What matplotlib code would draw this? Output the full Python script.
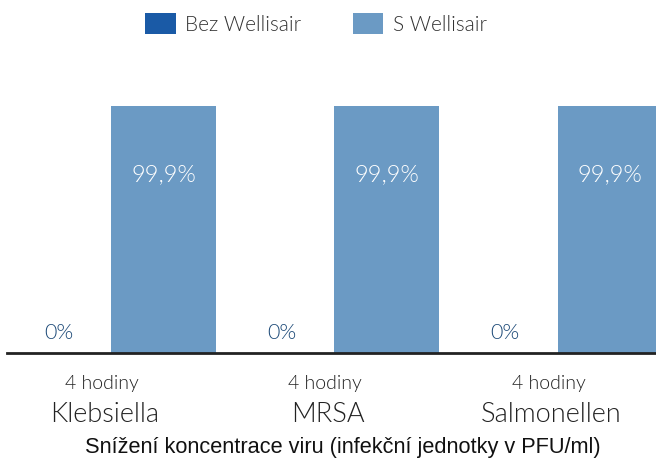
import matplotlib
matplotlib.use("Agg")
import matplotlib.pyplot as plt
from matplotlib.patches import Patch
import numpy as np

categories = ["Klebsiella", "MRSA", "Salmonellen"]
durations = ["4 hodiny", "4 hodiny", "4 hodiny"]
series_names = ["Bez Wellisair", "S Wellisair"]
bez_values = [0, 0, 0]
s_values = [99.9, 99.9, 99.9]
bez_labels = ["0%", "0%", "0%"]
s_labels = ["99,9%", "99,9%", "99,9%"]
xlabel = "Snížení koncentrace viru (infekční jednotky v PFU/ml)"

dark = "#1a5aa6"
light = "#6b9ac4"
FONT = "Lato"
WT = 300

W, H = 656, 461
fig = plt.figure(figsize=(W/100, H/100), dpi=100)
ax = fig.add_axes([7/W, 1-353/H, (W-7)/W, (353-106)/H])

x = np.arange(len(categories))
bw = 0.47
ax.bar(x - bw/2, bez_values, bw, color=dark)
ax.bar(x + bw/2, s_values, bw, color=light)
ax.set_ylim(0, 99.9)
ax.set_xlim(-0.465, 2.44)

for i in range(len(categories)):
    ax.text(x[i] - bw/2, 4, bez_labels[i], ha="center", va="bottom",
            color="#1d4a78", fontsize=15.5, family=FONT, fontweight=WT)
    ax.text(x[i] + bw/2, 72, s_labels[i], ha="center", va="center",
            color="white", fontsize=17, family=FONT, fontweight=WT)

for s in ["top", "right", "left"]:
    ax.spines[s].set_visible(False)
ax.spines["bottom"].set_linewidth(2)
ax.spines["bottom"].set_color("#222222")
ax.set_yticks([])
ax.set_xticks(x)
ax.set_xticklabels([])
ax.tick_params(axis="x", length=0)

trans = ax.get_xaxis_transform()
for i in range(len(categories)):
    ax.text(x[i] - 0.04, -0.125, durations[i], transform=trans, ha="center", va="center",
            fontsize=14, family=FONT, fontweight=WT, color="#222222")
    ax.text(x[i] - 0.03, -0.25, categories[i], transform=trans, ha="center", va="center",
            fontsize=19.5, family=FONT, fontweight=WT, color="#222222")

fig.text(343/W, 1-447/H, xlabel, ha="center", va="center", fontsize=15.7,
         family="Liberation Sans", color="#111111")

handles = [Patch(facecolor=dark), Patch(facecolor=light)]
leg = fig.legend(handles, series_names, loc="center", bbox_to_anchor=(316/W, 1-24/H),
                 ncol=2, frameon=False, handlelength=1.45, handleheight=1.2,
                 columnspacing=2.5, handletextpad=0.45,
                 prop={"family": FONT, "weight": WT, "size": 15})
for t in leg.get_texts():
    t.set_color("#333333")

fig.savefig("out.png", dpi=100)
